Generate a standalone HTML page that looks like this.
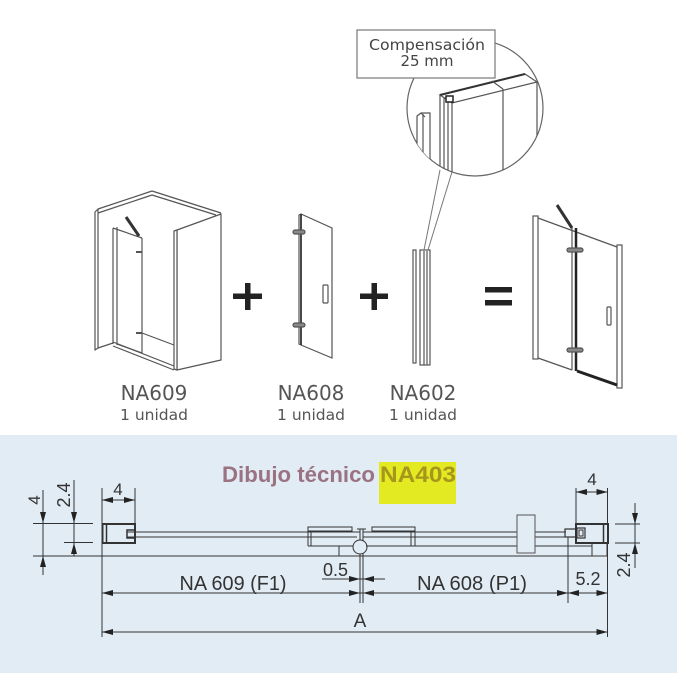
<!DOCTYPE html>
<html><head><meta charset="utf-8"><style>
html,body{margin:0;padding:0;background:#fff;}
svg{display:block;}
</style></head><body>
<svg width="700" height="700" viewBox="0 0 700 700" xmlns="http://www.w3.org/2000/svg">
<rect width="700" height="700" fill="#fff"/>

<!-- ===== NA609 enclosure ===== -->
<g stroke="#555" stroke-width="1.2" fill="none" stroke-linejoin="round">
  <polygon points="95,212 98,209 98,348 95,350" fill="#fff"/>
  <line x1="98" y1="209" x2="152" y2="191"/>
  <line x1="98" y1="213" x2="152" y2="195"/>
  <line x1="152" y1="191" x2="221" y2="213"/>
  <line x1="152" y1="195" x2="216" y2="215"/>
  <polygon points="177,230 221,214 221,360 177,370" fill="#fff"/>
  <polygon points="174,231 177,230 177,370 174,369" fill="#fff"/>
  <line x1="98" y1="348" x2="113" y2="343"/>
  <line x1="113" y1="342" x2="174" y2="366"/>
  <line x1="113" y1="346" x2="174" y2="370"/>
  <line x1="113" y1="228" x2="113" y2="344"/>
  <line x1="117" y1="227" x2="117" y2="345"/>
  <line x1="113" y1="228" x2="142" y2="238"/>
  <line x1="142" y1="238" x2="142" y2="353"/>
  <line x1="117" y1="344" x2="142" y2="353"/>
  <line x1="142" y1="333" x2="174" y2="345"/>
  <line x1="136" y1="252" x2="142" y2="252" stroke-width="2"/>
  <line x1="136" y1="333" x2="142" y2="333" stroke-width="2"/>
  <line x1="126" y1="217" x2="139" y2="236" stroke="#333" stroke-width="3"/>
</g>

<!-- plus 1 -->
<rect x="233" y="293.5" width="29" height="5.5" fill="#222"/>
<rect x="245" y="283" width="5.5" height="27" fill="#222"/>

<!-- ===== NA608 door ===== -->
<g stroke="#555" stroke-width="1.2" fill="none">
  <polygon points="299,215 301,214 332,228 332,358 301,345 299,344" fill="#fff"/>
  <line x1="301" y1="214" x2="301" y2="345" stroke-width="1.8" stroke="#333"/>
  <rect x="293" y="230" width="12" height="4" rx="2" fill="#888"/>
  <rect x="293" y="323" width="12" height="4" rx="2" fill="#888"/>
  <rect x="323" y="285" width="5" height="18" rx="1"/>
</g>

<!-- plus 2 -->
<rect x="360" y="293.5" width="28" height="5.5" fill="#222"/>
<rect x="371.5" y="283" width="5.5" height="27" fill="#222"/>

<!-- ===== NA602 profile ===== -->
<g stroke="#555" stroke-width="1.2" fill="none">
  <rect x="413" y="250" width="3" height="113" fill="#fff"/>
  <rect x="420" y="250" width="10" height="115" fill="#fff"/>
  <line x1="424" y1="251" x2="424" y2="365"/>
  <line x1="427" y1="251" x2="427" y2="365"/>
  <line x1="424" y1="250" x2="440" y2="170" stroke="#777" stroke-width="1"/>
  <line x1="428" y1="250" x2="452" y2="172" stroke="#777" stroke-width="1"/>
</g>

<!-- ===== magnified circle ===== -->
<defs><clipPath id="cc"><circle cx="475" cy="108" r="68"/></clipPath></defs>
<circle cx="475" cy="108" r="68" fill="#fff" stroke="#666" stroke-width="1.2"/>
<g clip-path="url(#cc)" stroke="#555" stroke-width="1.2" fill="none">
  <polygon points="417,116 421,113 430,113 430,190 417,190" fill="#fff"/>
  <line x1="423" y1="114" x2="423" y2="190"/>
  <line x1="421" y1="113" x2="425" y2="117"/>
  <polygon points="440,95 525,74 537,82 452,103" fill="#fff"/>
  <line x1="440" y1="95" x2="525" y2="74" stroke="#333" stroke-width="2"/>
  <line x1="440" y1="95" x2="440" y2="190"/>
  <line x1="444" y1="97" x2="444" y2="190"/>
  <line x1="448" y1="100" x2="448" y2="190"/>
  <line x1="452" y1="103" x2="452" y2="190"/>
  <line x1="537" y1="82" x2="537" y2="190"/>
  <line x1="492" y1="81" x2="503" y2="89"/>
  <line x1="503" y1="89" x2="503" y2="190"/>
  <rect x="446" y="96" width="7" height="6" fill="#fff" stroke="#222" stroke-width="1.5"/>
</g>

<!-- label box -->
<rect x="357" y="30" width="138" height="48" fill="#fff" stroke="#777" stroke-width="1.2"/>
<text x="427" y="50" text-anchor="middle" font-family="DejaVu Sans, sans-serif" font-size="15" fill="#444" textLength="116" lengthAdjust="spacingAndGlyphs">Compensación</text>
<text x="427" y="66" text-anchor="middle" font-family="DejaVu Sans, sans-serif" font-size="15" fill="#444">25 mm</text>

<!-- equals -->
<rect x="485" y="287" width="27" height="5.5" fill="#222"/>
<rect x="485" y="300" width="27" height="5.5" fill="#222"/>

<!-- ===== assembled door ===== -->
<g stroke="#555" stroke-width="1.2" fill="none">
  <rect x="533" y="216" width="5" height="143" fill="#fff"/>
  <line x1="538" y1="218" x2="617" y2="247"/>
  <line x1="557" y1="205" x2="572" y2="228" stroke="#333" stroke-width="3"/>
  <line x1="572" y1="228" x2="572" y2="370"/>
  <line x1="576" y1="228" x2="576" y2="371" stroke="#222" stroke-width="2.5"/>
  <rect x="567" y="248" width="16" height="4" rx="2" fill="#888"/>
  <rect x="567" y="348" width="16" height="4" rx="2" fill="#888"/>
  <rect x="617" y="245" width="5" height="143" fill="#fff"/>
  <rect x="607" y="307" width="4" height="18" rx="1"/>
  <line x1="538" y1="358" x2="572" y2="370"/>
  <line x1="577" y1="371" x2="617" y2="385" stroke="#222" stroke-width="3"/>
</g>

<!-- labels -->
<g font-family="DejaVu Sans, sans-serif" fill="#555" text-anchor="middle">
  <text x="154" y="400" font-size="20">NA609</text>
  <text x="154" y="420" font-size="15.5">1 unidad</text>
  <text x="311" y="400" font-size="20">NA608</text>
  <text x="311" y="420" font-size="15.5">1 unidad</text>
  <text x="423" y="400" font-size="20">NA602</text>
  <text x="423" y="420" font-size="15.5">1 unidad</text>
</g>

<!-- ===== technical drawing panel ===== -->
<rect x="0" y="435" width="677" height="238" fill="#e2ecf5"/>

<text x="222" y="482" font-family="Liberation Sans, sans-serif" font-weight="bold" font-size="22" fill="#9a7282" textLength="153" lengthAdjust="spacingAndGlyphs">Dibujo técnico</text>
<rect x="379" y="462" width="77" height="42" fill="#e4ea22"/>
<text x="380" y="482" font-family="Liberation Sans, sans-serif" font-weight="bold" font-size="22" fill="#a6961c" textLength="76" lengthAdjust="spacingAndGlyphs">NA403</text>

<g stroke="#333" stroke-width="1" fill="none">
  <!-- baseline -->
  <line x1="33" y1="556" x2="607" y2="556"/>
  <!-- left dims -->
  <line x1="43" y1="490" x2="43" y2="575"/>
  <line x1="33" y1="523.5" x2="93" y2="523.5"/>
  <line x1="74" y1="480" x2="74" y2="556"/>
  <line x1="64" y1="542.5" x2="93" y2="542.5"/>
  <!-- extension lines -->
  <line x1="102" y1="488" x2="102" y2="637"/>
  <line x1="135" y1="488" x2="135" y2="524"/>
  <line x1="102" y1="500" x2="135" y2="500"/>
  <line x1="576" y1="488" x2="576" y2="524"/>
  <line x1="607.5" y1="488" x2="607.5" y2="637"/>
  <line x1="576" y1="492" x2="607.5" y2="492"/>
  <line x1="568" y1="537" x2="568" y2="603"/>
  <line x1="360" y1="529" x2="360" y2="603"/>
  <line x1="363" y1="529" x2="363" y2="603"/>
  <line x1="357" y1="529" x2="366" y2="529"/>
  <!-- right 2.4 -->
  <line x1="635" y1="503" x2="635" y2="568"/>
  <line x1="615" y1="524" x2="640" y2="524"/>
  <line x1="615" y1="543" x2="640" y2="543"/>
  <!-- dim lines -->
  <line x1="322" y1="579" x2="385" y2="579"/>
  <line x1="102" y1="593" x2="607.5" y2="593"/>
  <line x1="102" y1="632" x2="607.5" y2="632"/>

  <!-- left profile -->
  <rect x="102.5" y="524" width="32.5" height="19" stroke-width="2"/>
  <line x1="106.5" y1="525" x2="106.5" y2="542" stroke-width="1.5"/>
  <polyline points="135,530 127,530 127,538 135,538" stroke-width="1.5"/>
  <!-- left glass -->
  <line x1="127" y1="532" x2="360" y2="532"/>
  <line x1="127" y1="537" x2="357" y2="537"/>
  <!-- left clamp -->
  <rect x="308" y="527" width="44" height="4"/>
  <line x1="308" y1="531" x2="308" y2="546"/>
  <line x1="311" y1="531" x2="311" y2="546"/>
  <line x1="308" y1="546" x2="354" y2="546"/>
  <line x1="339" y1="546" x2="339" y2="556"/>
  <!-- hinge -->
  <circle cx="360" cy="547" r="7" fill="#e2ecf5"/>
  <!-- right glass -->
  <line x1="363" y1="532" x2="566" y2="532"/>
  <line x1="363" y1="537" x2="566" y2="537"/>
  <line x1="366" y1="546" x2="592" y2="546"/>
  <!-- right clamp -->
  <rect x="372" y="527" width="43" height="4"/>
  <line x1="411" y1="531" x2="411" y2="546"/>
  <line x1="415" y1="531" x2="415" y2="546"/>
  <!-- handle block -->
  <rect x="517" y="515" width="18" height="38" fill="#e2ecf5" stroke="#555"/>
  <!-- right profile -->
  <rect x="576" y="524" width="32" height="19" stroke-width="2"/>
  <line x1="603.5" y1="525" x2="603.5" y2="542" stroke-width="1.5"/>
  <rect x="565" y="529" width="11" height="8" stroke-width="1.2"/>
  <rect x="577" y="528" width="8" height="10" stroke-width="1.2"/>
  <rect x="579" y="530" width="4" height="6" stroke-width="1"/>
  <rect x="592" y="543" width="15" height="13"/>
</g>

<!-- arrows -->
<g fill="#222">
  <!-- left 4 vertical -->
  <polygon points="43,523 40,512 46,512"/>
  <polygon points="43,556 40,567 46,567"/>
  <!-- left 2.4 -->
  <polygon points="74,523 71,512 77,512"/>
  <polygon points="74,543 71,554 77,554"/>
  <!-- top left 4 -->
  <polygon points="102,500 113,497 113,503"/>
  <polygon points="135,500 124,497 124,503"/>
  <!-- top right 4 -->
  <polygon points="576,492 587,489 587,495"/>
  <polygon points="607.5,492 596.5,489 596.5,495"/>
  <!-- right 2.4 -->
  <polygon points="635,524 632,513 638,513"/>
  <polygon points="635,543 632,554 638,554"/>
  <!-- 0.5 -->
  <polygon points="360,579 349,576 349,582"/>
  <polygon points="363,579 374,576 374,582"/>
  <!-- 593 row -->
  <polygon points="102,593 113,590 113,596"/>
  <polygon points="360,593 349,590 349,596"/>
  <polygon points="363,593 374,590 374,596"/>
  <polygon points="568,593 557,590 557,596"/>
  <polygon points="568,593 579,590 579,596"/>
  <polygon points="607.5,593 596.5,590 596.5,596"/>
  <!-- A row -->
  <polygon points="102,632 113,629 113,635"/>
  <polygon points="607.5,632 596.5,629 596.5,635"/>
</g>

<!-- dimension texts -->
<g font-family="Liberation Sans, sans-serif" fill="#333">
  <text transform="translate(40,500) rotate(-90)" text-anchor="middle" font-size="17">4</text>
  <text transform="translate(70,495) rotate(-90)" text-anchor="middle" font-size="18">2.4</text>
  <text transform="translate(630,565) rotate(-90)" text-anchor="middle" font-size="18">2.4</text>
  <text x="118" y="495" text-anchor="middle" font-size="17">4</text>
  <text x="592" y="485" text-anchor="middle" font-size="17">4</text>
  <text x="233" y="590" text-anchor="middle" font-size="20" textLength="107" lengthAdjust="spacingAndGlyphs">NA 609 (F1)</text>
  <text x="472" y="590" text-anchor="middle" font-size="20" textLength="110" lengthAdjust="spacingAndGlyphs">NA 608 (P1)</text>
  <text x="323" y="576" font-size="18">0.5</text>
  <text x="588" y="585" text-anchor="middle" font-size="18">5.2</text>
  <text x="360" y="627" text-anchor="middle" font-size="19">A</text>
</g>
</svg>
</body></html>
